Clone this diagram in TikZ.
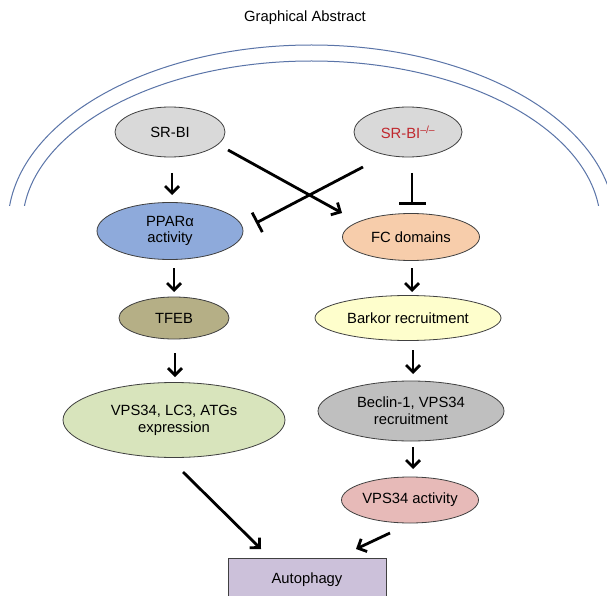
\documentclass[tikz,border=0pt]{standalone}
\usepackage{fontspec}
\setmainfont{Liberation Sans}
\usetikzlibrary{shapes.geometric,arrows.meta}
\definecolor{arcblue}{HTML}{5A74A8}
\definecolor{grayA}{HTML}{D9D9D9}
\definecolor{grayB}{HTML}{BFBFBF}
\definecolor{pparblue}{HTML}{8EAADB}
\definecolor{fcpeach}{HTML}{F7CDAB}
\definecolor{tfebol}{HTML}{B5AF86}
\definecolor{barkory}{HTML}{FEFECC}
\definecolor{vpsgreen}{HTML}{D8E4BC}
\definecolor{vpspink}{HTML}{E7BAB8}
\definecolor{autolav}{HTML}{CCC1DA}
\definecolor{kored}{HTML}{C0272D}
\definecolor{edge}{HTML}{404040}
\tikzset{
  el/.style={ellipse, draw=edge, line width=0.8pt, inner sep=0pt, align=center,
    font=\fontsize{14.8}{16.8}\selectfont},
  arr/.style={line width=2.8pt, -{Straight Barb[length=7pt,width=14pt,line width=2.8pt]}},
  inh/.style={line width=2.8pt, -{Bar[width=#1,line width=2.8pt]}},
  inh/.default=26pt
}
\begin{document}
\begin{tikzpicture}[x=1pt,y=-1pt]
\useasboundingbox (0,0) rectangle (607,596);
\clip (0,0) rectangle (607,596);
\fill[white] (0,0) rectangle (607,596);

\node[font=\fontsize{14.8}{16.8}\selectfont] (title) at (305,18) {Graphical Abstract};

\begin{scope}
\clip (0,0) rectangle (607,205);
\draw[arcblue, line width=1pt] (311.5,225) ellipse [x radius=303.6, y radius=180];
\draw[arcblue, line width=1pt] (311.5,225) ellipse [x radius=289, y radius=164];
\end{scope}

\node[el, fill=grayA, minimum width=110pt, minimum height=50pt] (srbi) at (170,132) {SR-BI};
\node[el, fill=grayA, minimum width=108pt, minimum height=50pt] (ko) at (408,132)
  {\textcolor{kored}{SR-BI\textsuperscript{--/--}}};
\node[el, fill=pparblue, minimum width=146pt, minimum height=57pt] (ppar) at (170,231)
  {PPARα\\activity};
\node[el, fill=fcpeach, minimum width=137pt, minimum height=47pt] (fc) at (411,237) {FC domains};
\node[el, fill=tfebol, minimum width=110pt, minimum height=42pt] (tfeb) at (174,318) {TFEB};
\node[el, fill=barkory, minimum width=186pt, minimum height=45pt] (barkor) at (408,318) {Barkor recruitment};
\node[el, fill=vpsgreen, minimum width=222pt, minimum height=75pt] (expr) at (174,420)
  {VPS34, LC3, ATGs\\expression};
\node[el, fill=grayB, minimum width=186pt, minimum height=60pt] (beclin) at (411,411)
  {Beclin-1, VPS34\\recruitment};
\node[el, fill=vpspink, minimum width=137pt, minimum height=46pt] (vact) at (410,500) {VPS34 activity};
\node[draw=edge, line width=0.9pt, fill=autolav, minimum width=158pt, minimum height=50pt,
  anchor=north] (auto) at (307,558) {};
\node[font=\fontsize{14.8}{16.8}\selectfont] (autotext) at (307,580) {Autophagy};

% arrow end points
\coordinate (a1s) at (172,173); \coordinate (a1e) at (172,195);
\coordinate (a2s) at (228,150); \coordinate (a2e) at (342,213);
\coordinate (i1s) at (363,167); \coordinate (i1e) at (256,223);
\coordinate (i2s) at (412,173); \coordinate (i2e) at (412,205);
\coordinate (a3s) at (174,268); \coordinate (a3e) at (174,292);
\coordinate (a4s) at (412,268); \coordinate (a4e) at (412,292);
\coordinate (a5s) at (175,353); \coordinate (a5e) at (175,377);
\coordinate (a6s) at (413,350); \coordinate (a6e) at (413,374);
\coordinate (a7s) at (413,447); \coordinate (a7e) at (413,469);
\coordinate (a8s) at (183,472); \coordinate (a8e) at (261,549);
\coordinate (a9s) at (390,533); \coordinate (a9e) at (356,549);

\draw[arr] (a1s) -- (a1e);
\draw[arr] (a2s) -- (a2e);
\draw[inh=22pt] (i1s) -- (i1e);
\draw[inh=27pt] (i2s) -- (i2e);
\draw[arr] (a3s) -- (a3e);
\draw[arr] (a4s) -- (a4e);
\draw[arr] (a5s) -- (a5e);
\draw[arr] (a6s) -- (a6e);
\draw[arr] (a7s) -- (a7e);
\draw[arr] (a8s) -- (a8e);
\draw[arr] (a9s) -- (a9e);
\end{tikzpicture}
\end{document}
